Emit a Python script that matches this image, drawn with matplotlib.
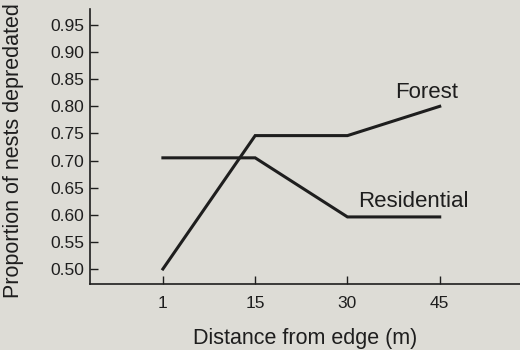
import matplotlib
matplotlib.use("Agg")
import matplotlib.pyplot as plt

distances = ["1", "15", "30", "45"]
forest = [0.50, 0.746, 0.746, 0.80]
residential = [0.705, 0.705, 0.596, 0.596]
yticks = [0.50, 0.55, 0.60, 0.65, 0.70, 0.75, 0.80, 0.85, 0.90, 0.95]

plt.rcParams['font.family'] = ['Liberation Sans', 'DejaVu Sans']
bg = '#dddcd6'
ink = '#1e1e1e'

fig = plt.figure(figsize=(5.2, 3.5), dpi=100, facecolor=bg)
ax = fig.add_axes([90/520, 66/350, 430/520, 275/350], facecolor=bg)

x = list(range(len(distances)))
ax.plot(x, forest, color=ink, lw=2.2, solid_joinstyle='miter')
ax.plot(x, residential, color=ink, lw=2.2, solid_joinstyle='miter')

ax.text(3.195, 0.825, "Forest", ha='right', va='center', fontsize=16, color=ink)
ax.text(3.314, 0.625, "Residential", ha='right', va='center', fontsize=16, color=ink)

ax.set_xlim(-0.79, 3.87)
ax.set_ylim(0.4723, 0.9795)
ax.set_xticks(x)
ax.set_xticklabels(distances)
ax.set_yticks(yticks)
ax.set_yticklabels([f"{v:.2f}" for v in yticks])

for s in ['top', 'right']:
    ax.spines[s].set_visible(False)
for s in ['left', 'bottom']:
    ax.spines[s].set_color(ink)
    ax.spines[s].set_linewidth(1.2)

ax.tick_params(axis='both', direction='in', length=6, width=1.0, colors=ink,
               labelsize=12.5, labelcolor=ink)
ax.tick_params(axis='x', pad=9)
ax.tick_params(axis='y', pad=4)

ax.set_xlabel("Distance from edge (m)", fontsize=15.5, color=ink, labelpad=12)
ax.set_ylabel("Proportion of nests depredated", fontsize=15.5, color=ink)
ax.yaxis.set_label_coords(-66/430, 0.484)

fig.savefig("out.png", dpi=100, facecolor=bg)
